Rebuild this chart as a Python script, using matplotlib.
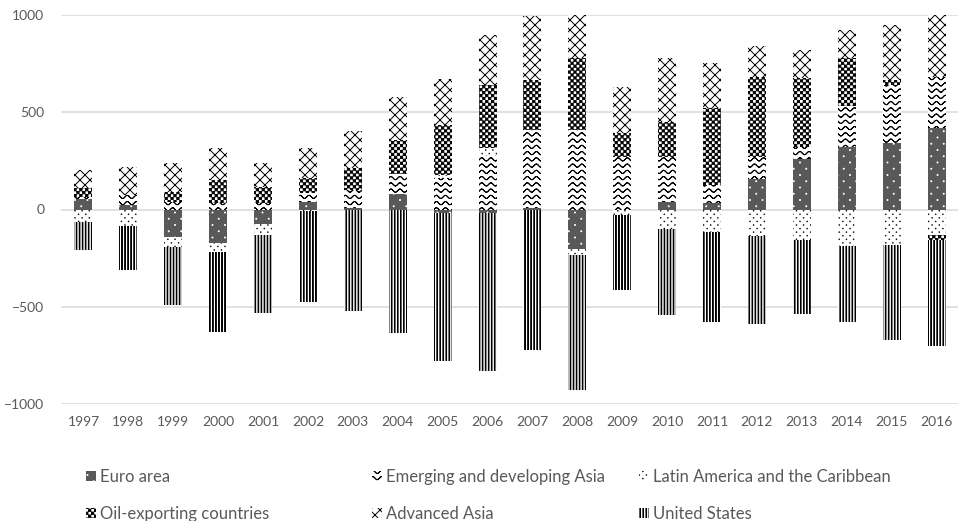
import warnings
import numpy as np
import matplotlib
matplotlib.use("Agg")
import matplotlib.pyplot as plt
from matplotlib import hatch as mhatch
from matplotlib.path import Path

warnings.filterwarnings("ignore", category=matplotlib.MatplotlibDeprecationWarning)

# current account balances, billions of US dollars
years = ["1997", "1998", "1999", "2000", "2001", "2002", "2003", "2004", "2005", "2006",
         "2007", "2008", "2009", "2010", "2011", "2012", "2013", "2014", "2015", "2016"]
euro_area = [55, 24, -140, -170, -77, 40, 10, 82, -20, -20,
             10, -201, -5, 40, 31, 156, 258, 320, 344, 417]
emerging_asia = [10, 50, 40, 31, 31, 46, 89, 103, 162, 280,
                 399, 409, 271, 232, 94, 115, 65, 210, 297, 266]
latin_america = [-65, -85, -55, -48, -55, -10, 0, 0, 15, 34,
                 0, -34, -25, -98, -115, -137, -158, -187, -184, -132]
oil_exporters = [45, 0, 50, 120, 86, 74, 112, 172, 258, 326,
                 258, 369, 120, 180, 395, 412, 352, 249, 26, -26]
advanced_asia = [95, 143, 147, 163, 120, 158, 194, 223, 237, 258,
                 326, 223, 237, 326, 235, 158, 146, 146, 283, 318]
united_states = [-141, -228, -298, -412, -399, -466, -524, -636, -757, -812,
                 -722, -693, -386, -443, -464, -454, -381, -392, -486, -546]

names = ["Euro area", "Emerging and developing Asia", "Latin America and the Caribbean",
         "Oil-exporting countries", "Advanced Asia", "United States"]
values = [euro_area, emerging_asia, latin_america, oil_exporters, advanced_asia, united_states]

DPI = 100
HATCH_LW = 0.7
plt.rcParams["hatch.linewidth"] = HATCH_LW
HALF = HATCH_LW / 72 / 2          # half hatch stroke, in hatch-tile units

MOVE, LINE, CLOSE = Path.MOVETO, Path.LINETO, Path.CLOSEPOLY


def seg(p0, p1):
    return [p0, p1], [MOVE, LINE]


def polyline(pts):
    # out and back again, so the filled part of the hatch stays empty
    pts = [tuple(p) for p in pts]
    v = pts + pts[-2::-1]
    return v, [MOVE] + [LINE] * (len(v) - 1)


def rect(x0, y0, x1, y1):
    return [(x0, y0), (x1, y0), (x1, y1), (x0, y1), (x0, y0)], [MOVE, LINE, LINE, LINE, CLOSE]


def circle(cx, cy, r):
    c = Path.unit_circle()
    return c.vertices * r + [cx, cy], c.codes


class PatternHatch(mhatch.HatchPatternBase):
    key = ""
    _cache = None

    @classmethod
    def pieces(cls):
        return []

    def __init__(self, hatch, density):
        cls = type(self)
        if hatch and cls.key in hatch:
            if cls._cache is None:
                parts = cls.pieces()
                cls._cache = (np.concatenate([np.asarray(v, float) for v, _ in parts]),
                              np.concatenate([np.asarray(c, Path.code_type) for _, c in parts]))
            self._v, self._c = cls._cache
        else:
            self._v, self._c = np.empty((0, 2)), np.empty(0, Path.code_type)
        self.num_vertices = len(self._v)

    def set_vertices_and_codes(self, vertices, codes):
        vertices[:] = self._v
        codes[:] = self._c


def dot_grid(n, r):
    parts = []
    for row in range(2 * n + 1):
        xs = np.arange(n + 1) / n if row % 2 == 0 else (np.arange(n) + 0.5) / n
        for x in xs:
            parts.append(circle(x, row / (2 * n), r))
    return parts


class EuroDots(PatternHatch):
    key = ":"

    @classmethod
    def pieces(cls):
        return dot_grid(8, 0.005)


class LatinDots(PatternHatch):
    key = ";"

    @classmethod
    def pieces(cls):
        return dot_grid(14, 0.003)


class Waves(PatternHatch):
    key = "~"

    @classmethod
    def pieces(cls):
        rows, waves, amp = 16, 11, 0.016
        xs = np.linspace(0, 1, waves * 12 + 1)
        parts = []
        for k in range(rows):
            y0 = (k + 0.5) / rows
            ys = y0 + amp * np.cos(2 * np.pi * waves * xs)
            parts.append(polyline(np.column_stack([xs, ys])))
        return parts


class Checker(PatternHatch):
    key = "#"

    @classmethod
    def pieces(cls):
        n = 34
        grow = 0.3 * HALF
        parts = []
        for i in range(n):
            for j in range(n):
                if (i + j) % 2 == 0:
                    parts.append(rect(i / n + HALF - grow, j / n + HALF - grow,
                                      (i + 1) / n - HALF + grow, (j + 1) / n - HALF + grow))
        return parts


class Lattice(PatternHatch):
    key = "v"

    @classmethod
    def pieces(cls):
        m = 10
        parts = []
        for k in range(-m, m + 1):
            b = k / m
            parts.append(seg((0, b), (1, 1 + b)))
        for k in range(0, 2 * m + 1):
            c = k / m
            parts.append(seg((0, c), (1, c - 1)))
        return parts


class Stripes(PatternHatch):
    key = "l"

    @classmethod
    def pieces(cls):
        m, w = 33, 0.016
        return [rect(i / m + HALF, -0.01, i / m + w - HALF, 1.01) for i in range(m + 1)]


mhatch._hatch_types.extend([EuroDots, LatinDots, Waves, Checker, Lattice, Stripes])

styles = {
    "Euro area": dict(color="#595959", edgecolor="white", hatch=":"),
    "Emerging and developing Asia": dict(color="white", edgecolor="black", hatch="~"),
    "Latin America and the Caribbean": dict(color="white", edgecolor="black", hatch=";"),
    "Oil-exporting countries": dict(color="white", edgecolor="black", hatch="#"),
    "Advanced Asia": dict(color="white", edgecolor="black", hatch="v"),
    "United States": dict(color="white", edgecolor="black", hatch="l"),
}

plt.rcParams["font.family"] = ["Lato", "DejaVu Sans"]
text_color = "#595959"

fig = plt.figure(figsize=(9.58, 5.21), dpi=DPI)
ax = fig.add_axes([61 / 958, 1 - 404 / 521, 898 / 958, 389 / 521])

x = np.arange(len(years))
pos_base = np.zeros(len(years))
neg_base = np.zeros(len(years))
handles = {}
for name, vals in zip(names, values):
    v = np.asarray(vals, float)
    bottom = np.where(v >= 0, pos_base, neg_base)
    handles[name] = ax.bar(x, v, width=0.4, bottom=bottom, linewidth=0, zorder=2,
                           **styles[name])
    pos_base += np.clip(v, 0, None)
    neg_base += np.clip(v, None, 0)

ax.set_xlim(-0.5, len(years) - 0.5)
ax.set_ylim(-1000, 1000)
ax.set_yticks([-1000, -500, 0, 500, 1000])
ax.set_xticks(x)
ax.set_xticklabels(years)
ax.yaxis.grid(True, color="#d9d9d9", linewidth=1.1)
ax.set_axisbelow(True)
for s in ax.spines.values():
    s.set_visible(False)
ax.tick_params(axis="both", length=0, colors=text_color, labelsize=10)
ax.tick_params(axis="y", pad=12)
ax.tick_params(axis="x", pad=9)

# legend laid out as three columns of two entries
columns = [(names[0], names[3]), (names[1], names[4]), (names[2], names[5])]
col_x = [86 / 958, 372 / 958, 639 / 958]
for (a, b), cx in zip(columns, col_x):
    fig.legend([handles[a], handles[b]], [a, b], loc="upper left",
               bbox_to_anchor=(cx, 1 - 469 / 521), frameon=False, fontsize=12,
               labelcolor=text_color, handlelength=0.6, handleheight=0.6,
               handletextpad=0.25, labelspacing=1.25, borderpad=0, borderaxespad=0)

fig.savefig("out.png", dpi=DPI)
